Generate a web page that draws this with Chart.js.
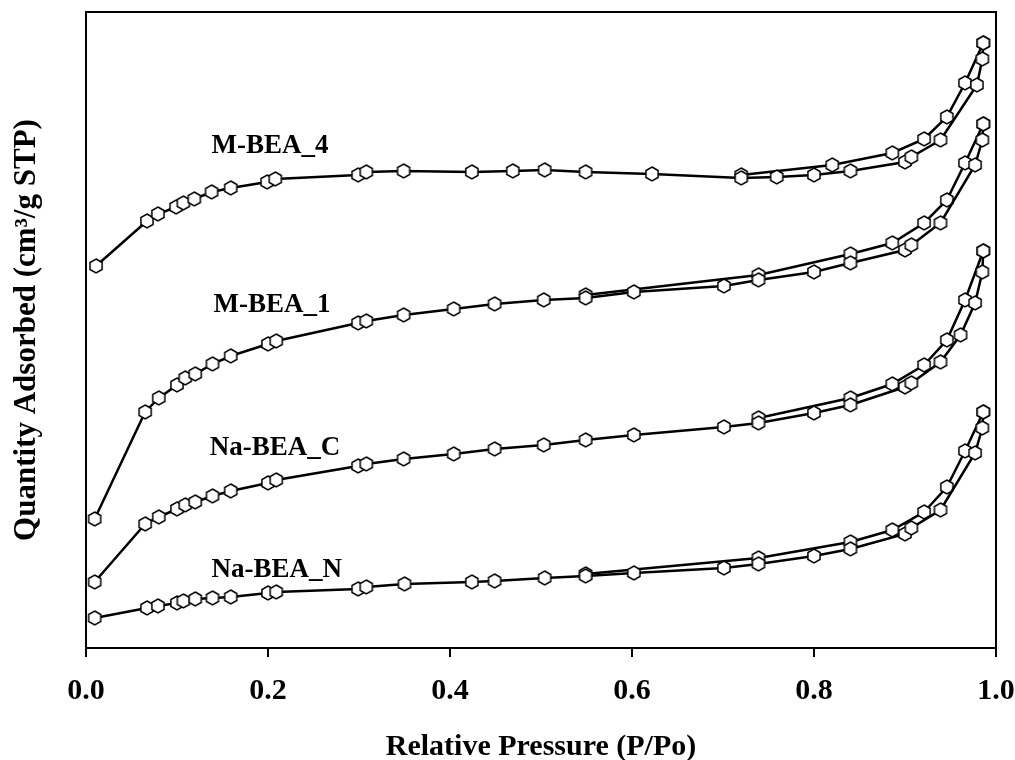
<!DOCTYPE html>
<html lang="en">
<head>
    <meta charset="UTF-8">
    <title>N2 isotherms</title>
    <script src="https://cdn.jsdelivr.net/npm/chart.js"></script>
    <style>
        html, body { margin: 0; padding: 0; background: #fff; }
        .wrap { width: 1015px; height: 760px; position: relative; }
    </style>
</head>
<body>
    <div class="wrap"><canvas id="isoChart"></canvas></div>

    <script>
    // Relative pressure (P/Po) and quantity adsorbed (arbitrary offset units)
    const mBea4AdsP = [0.011, 0.067, 0.079, 0.099, 0.107, 0.119, 0.138, 0.159, 0.199, 0.208, 0.299, 0.308, 0.349, 0.424, 0.469, 0.504, 0.549, 0.622, 0.720, 0.759, 0.800, 0.840, 0.900, 0.907, 0.939, 0.979, 0.985, 0.986];
    const mBea4AdsQ = [382, 427, 434, 441, 445, 449, 456, 460, 466, 469, 473, 476, 477, 476, 477, 478, 476, 474, 470, 471, 473, 477, 486, 491, 508, 563, 589, 605];
    const mBea4DesP = [0.986, 0.966, 0.946, 0.921, 0.886, 0.820, 0.720];
    const mBea4DesQ = [605, 565, 531, 509, 495, 483, 473];

    const mBea1AdsP = [0.0095, 0.065, 0.080, 0.100, 0.109, 0.120, 0.139, 0.159, 0.200, 0.209, 0.299, 0.308, 0.349, 0.404, 0.449, 0.503, 0.549, 0.602, 0.701, 0.739, 0.800, 0.840, 0.900, 0.907, 0.939, 0.977, 0.985, 0.986];
    const mBea1AdsQ = [129, 236, 250, 263, 270, 274, 284, 292, 304, 307, 325, 327, 333, 339, 344, 348, 350, 356, 362, 368, 376, 385, 398, 403, 425, 483, 508, 524];
    const mBea1DesP = [0.986, 0.966, 0.946, 0.921, 0.886, 0.840, 0.739, 0.549];
    const mBea1DesQ = [524, 485, 448, 425, 405, 394, 373, 353];

    const naBeaCAdsP = [0.0095, 0.065, 0.080, 0.100, 0.109, 0.120, 0.139, 0.159, 0.200, 0.209, 0.299, 0.308, 0.349, 0.404, 0.449, 0.503, 0.549, 0.602, 0.701, 0.739, 0.800, 0.840, 0.900, 0.907, 0.939, 0.961, 0.977, 0.985, 0.986];
    const naBeaCAdsQ = [66, 124, 131, 139, 143, 146, 152, 157, 165, 168, 182, 184, 189, 194, 199, 203, 208, 213, 221, 225, 235, 243, 261, 265, 286, 313, 345, 376, 397];
    const naBeaCDesP = [0.986, 0.966, 0.946, 0.921, 0.886, 0.840, 0.739];
    const naBeaCDesQ = [397, 348, 308, 283, 264, 250, 230];

    const naBeaNAdsP = [0.0095, 0.067, 0.079, 0.100, 0.107, 0.120, 0.139, 0.159, 0.200, 0.209, 0.299, 0.308, 0.350, 0.424, 0.449, 0.504, 0.549, 0.602, 0.701, 0.739, 0.800, 0.840, 0.900, 0.907, 0.939, 0.977, 0.985, 0.986];
    const naBeaNAdsQ = [30, 40, 42, 45, 47, 49, 50, 51, 55, 56, 59, 61, 64, 66, 67, 70, 72, 75, 80, 84, 92, 99, 114, 120, 138, 195, 220, 236];
    const naBeaNDesP = [0.986, 0.966, 0.946, 0.921, 0.886, 0.840, 0.739, 0.549];
    const naBeaNDesQ = [236, 197, 161, 136, 118, 106, 90, 74];

    // sample names and where they sit (data coords of the text baseline start)
    const sampleNames = ['M-BEA_4', 'M-BEA_1', 'Na-BEA_C', 'Na-BEA_N'];
    const nameAtP = [0.138, 0.140, 0.136, 0.138];
    const nameAtQ = [495, 336, 193, 71];

    const xTicks = [0, 0.2, 0.4, 0.6, 0.8, 1.0];

    const serif = '"Liberation Serif", "Times New Roman", serif';

    // open hexagon marker
    function hexMarker(r) {
        const c = document.createElement('canvas');
        const s = Math.ceil(r * 2 + 4);
        c.width = s; c.height = s;
        const g = c.getContext('2d');
        g.beginPath();
        for (let i = 0; i < 6; i++) {
            const a = -Math.PI / 2 + i * Math.PI / 3;
            const px = s / 2 + r * Math.cos(a), py = s / 2 + r * Math.sin(a);
            if (i === 0) g.moveTo(px, py); else g.lineTo(px, py);
        }
        g.closePath();
        g.fillStyle = '#fff';
        g.fill();
        g.lineWidth = 1.5;
        g.strokeStyle = '#000';
        g.stroke();
        return c;
    }
    const hex = hexMarker(7);

    function pts(p, q) { return p.map((v, i) => ({ x: v, y: q[i] })); }

    function branch(label, p, q) {
        return {
            label: label,
            data: pts(p, q),
            borderColor: '#000',
            borderWidth: 2.5,
            pointStyle: hex,
            pointRadius: 7,
            tension: 0
        };
    }

    const frame = {
        id: 'frame',
        afterDraw(chart) {
            const a = chart.chartArea, ctx = chart.ctx;
            ctx.save();
            ctx.strokeStyle = '#000';
            ctx.lineWidth = 2;
            ctx.beginPath();
            ctx.moveTo(a.left, a.top);
            ctx.lineTo(a.right, a.top);
            ctx.lineTo(a.right, a.bottom);
            ctx.stroke();
            ctx.restore();
        }
    };

    const names = {
        id: 'names',
        afterDatasetsDraw(chart) {
            const ctx = chart.ctx, sx = chart.scales.x, sy = chart.scales.y;
            ctx.save();
            ctx.font = 'bold 27px ' + serif;
            ctx.fillStyle = '#000';
            ctx.textAlign = 'left';
            ctx.textBaseline = 'alphabetic';
            sampleNames.forEach((n, i) => {
                ctx.fillText(n, sx.getPixelForValue(nameAtP[i]), sy.getPixelForValue(nameAtQ[i]));
            });
            ctx.restore();
        }
    };

    new Chart(document.getElementById('isoChart'), {
        type: 'line',
        data: {
            datasets: [
                branch('M-BEA_4 ads', mBea4AdsP, mBea4AdsQ),
                branch('M-BEA_4 des', mBea4DesP, mBea4DesQ),
                branch('M-BEA_1 ads', mBea1AdsP, mBea1AdsQ),
                branch('M-BEA_1 des', mBea1DesP, mBea1DesQ),
                branch('Na-BEA_C ads', naBeaCAdsP, naBeaCAdsQ),
                branch('Na-BEA_C des', naBeaCDesP, naBeaCDesQ),
                branch('Na-BEA_N ads', naBeaNAdsP, naBeaNAdsQ),
                branch('Na-BEA_N des', naBeaNDesP, naBeaNDesQ)
            ]
        },
        options: {
            responsive: true,
            maintainAspectRatio: false,
            animation: false,
            layout: { padding: { top: 12, right: 19, bottom: 0, left: 0 } },
            plugins: {
                legend: { display: false },
                tooltip: { enabled: false }
            },
            scales: {
                x: {
                    type: 'linear',
                    min: 0, max: 1,
                    afterBuildTicks(s) { s.ticks = xTicks.map(v => ({ value: v })); },
                    afterFit(s) { s.height = 112; s.paddingLeft = 0; s.paddingRight = 0; },
                    ticks: {
                        color: '#000',
                        padding: 16,
                        font: { family: serif, size: 30, weight: 'bold' },
                        callback: v => v.toFixed(1)
                    },
                    grid: { drawOnChartArea: false, drawTicks: true, tickLength: 9, color: '#000', lineWidth: 2 },
                    border: { display: true, color: '#000', width: 2 },
                    title: {
                        display: true,
                        text: 'Relative Pressure (P/Po)',
                        color: '#000',
                        padding: { top: 0, bottom: 0 },
                        font: { family: serif, size: 30, weight: 'bold', lineHeight: 0.85 }
                    }
                },
                y: {
                    min: 0, max: 636,
                    afterFit(s) { s.width = 86; },
                    ticks: { display: false },
                    grid: { display: false },
                    border: { display: true, color: '#000', width: 2 },
                    title: {
                        display: true,
                        text: 'Quantity Adsorbed (cm³/g STP)',
                        color: '#000',
                        padding: { top: 11, bottom: 0 },
                        font: { family: serif, size: 31, weight: 'bold', lineHeight: 1 }
                    }
                }
            }
        },
        plugins: [frame, names]
    });
    </script>
</body>
</html>
